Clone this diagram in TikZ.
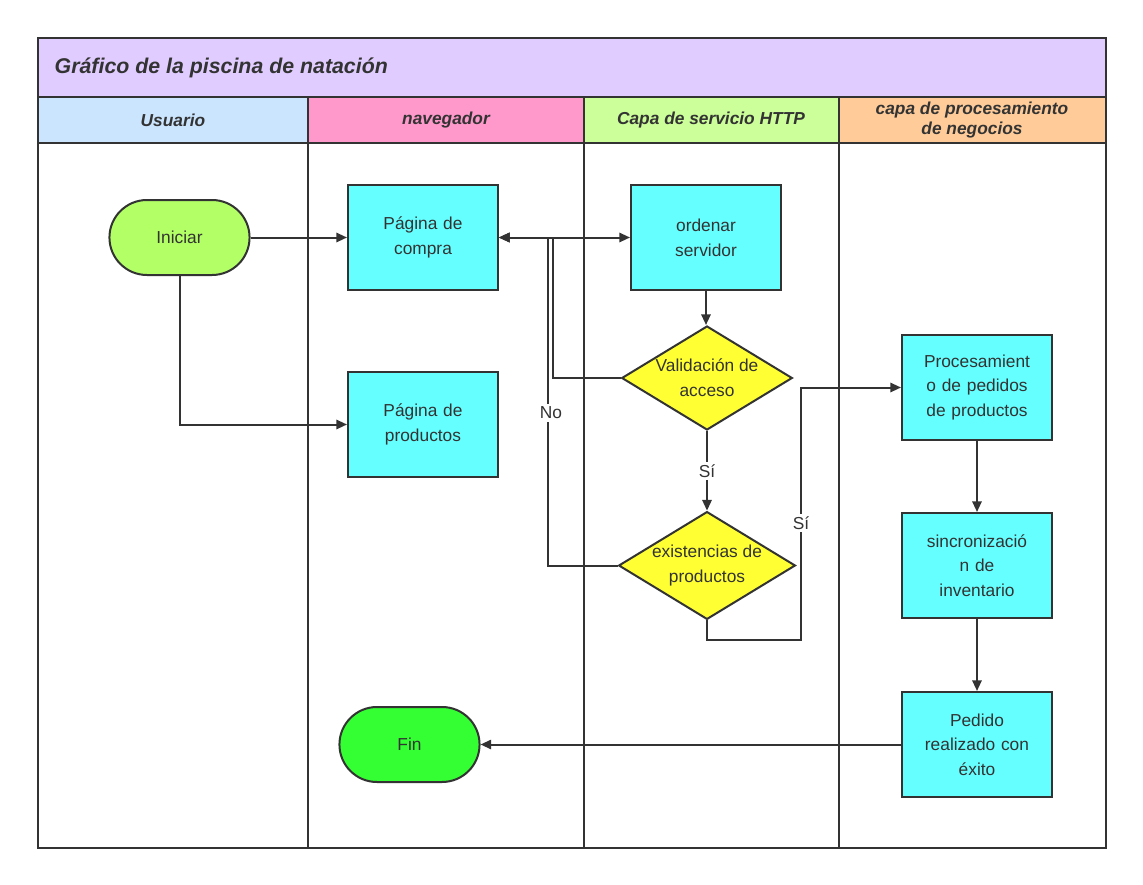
\documentclass[tikz,border=0pt]{standalone}
\usepackage{fontspec}
\setmainfont{Liberation Sans}
\usetikzlibrary{shapes.geometric,shapes.misc,arrows.meta}
\definecolor{ttl}{HTML}{E1CCFF}
\definecolor{hu}{HTML}{CCE5FF}
\definecolor{hn}{HTML}{FF99CC}
\definecolor{hh}{HTML}{CCFF99}
\definecolor{hp}{HTML}{FFCC99}
\definecolor{cy}{HTML}{66FFFF}
\definecolor{lime}{HTML}{B3FF66}
\definecolor{grn}{HTML}{33FF33}
\definecolor{yel}{HTML}{FFFF33}
\definecolor{ln}{HTML}{333333}
\begin{document}
\begin{tikzpicture}[x=0.75pt,y=-0.75pt,
  every node/.style={font=\fontsize{13}{18.5}\selectfont,text=ln,align=center},
  box/.style={draw=ln,line width=1.5pt,fill=cy,minimum width=112.5pt,minimum height=78.75pt,inner sep=2pt,text width=108pt},
  term/.style={draw=ln,line width=1.5pt,rounded rectangle,minimum width=111.75pt,minimum height=56.25pt,text width=70pt},
  dia/.style={draw=ln,line width=1.5pt,fill=yel,diamond,aspect=1.64,minimum width=128pt,minimum height=78pt,inner sep=0pt},
  hd/.style={font=\fontsize{13}{14.5}\selectfont\bfseries\itshape},
  con/.style={draw=ln,line width=1.5pt,-{Triangle[length=8pt,width=7pt]}},
  lbl/.style={fill=white,inner sep=2pt}]
\useasboundingbox (0,0) rectangle (1143,885);
\fill[white] (0,0) rectangle (1143,885);
% lanes
\fill[ttl] (38,38) rectangle (1106,97);
\fill[hu] (38,97) rectangle (308,143);
\fill[hn] (308,97) rectangle (584,143);
\fill[hh] (584,97) rectangle (839,143);
\fill[hp] (839,97) rectangle (1106,143);
\draw[ln,line width=1.5pt] (38,38) rectangle (1106,848);
\draw[ln,line width=1.5pt] (38,97) -- (1106,97) (38,143) -- (1106,143);
\foreach \x in {308,584,839} \draw[ln,line width=1.5pt] (\x,97) -- (\x,848);
\node[font=\fontsize{16}{18}\selectfont\bfseries\itshape,anchor=west] (title) at (50,68) {Gráfico de la piscina de natación};
\node[hd] (h1) at (173,120) {Usuario};
\node[hd] (h2) at (446,120) {navegador};
\node[hd] (h3) at (711,120) {Capa de servicio HTTP};
\node[hd,align=center] (h4) at (972,120) {capa de procesamiento\\de negocios};
% nodes
\node[term,fill=lime] (ini) at (179.5,237.5) {Iniciar};
\node[box] (compra) at (423,237.5) {Página de\\compra};
\node[box] (prod) at (423,424.5) {Página de\\productos};
\node[box] (ord) at (706,237.5) {ordenar\\servidor};
\node[dia] (val) at (707,378) {Validación de\\acceso};
\node[dia] (exi) at (707,565.5) {existencias de\\productos};
\node[box] (proc) at (977,387.5) {Procesamient\\o de pedidos\\de productos};
\node[box] (sinc) at (977,565.5) {sincronizació\\n de\\inventario};
\node[box] (ped) at (977,744.5) {Pedido\\realizado con\\éxito};
\node[term,fill=grn] (fin) at (409.5,744.5) {Fin};
% connectors
\draw[con] (ini.east) -- (compra.west);
\draw[con] (ini.south) |- (prod.west);
\draw[con,{Triangle[length=8pt,width=7pt]}-{Triangle[length=8pt,width=7pt]}] (compra.east) -- (ord.west);
\draw[con] (ord.south) -- (ord.south |- val.north);
\coordinate (v1) at (553,378);
\coordinate (e1) at (548,565.5);
\draw[con] (val.west) -- (v1) |- (compra.east);
\draw[con] (exi.west) -- (e1) |- (compra.east);
\node[lbl] (no) at (551,413) {No};
\draw[con] (val.south) -- (exi.north) node[midway,lbl] (si1) {Sí};
\coordinate (b1) at (707,640);
\coordinate (b2) at (801,640);
\draw[con] (exi.south) -- (b1) -- (b2) |- (proc.west);
\node[lbl] (si2) at (801,523) {Sí};
\draw[con] (proc.south) -- (sinc.north);
\draw[con] (sinc.south) -- (ped.north);
\draw[con] (ped.west) -- (fin.east);
\end{tikzpicture}
\end{document}
